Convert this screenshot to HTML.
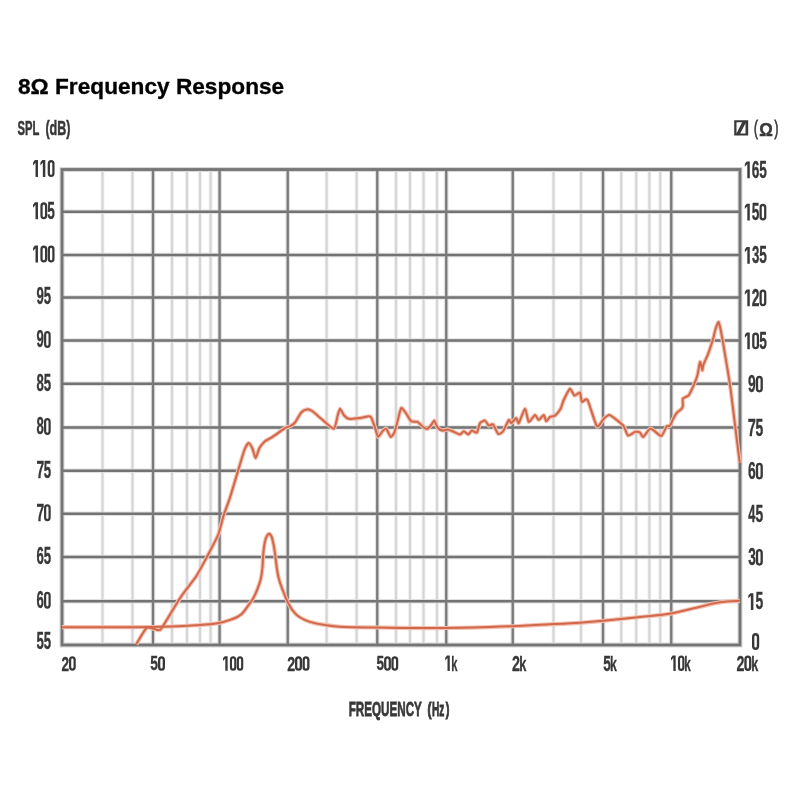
<!DOCTYPE html>
<html><head><meta charset="utf-8"><style>
html,body{margin:0;padding:0;background:#fff;width:800px;height:800px;overflow:hidden}
svg{display:block}
text{font-family:"Liberation Sans",sans-serif;font-size:22px}
</style></head><body>
<svg width="800" height="800" viewBox="0 0 800 800">
<rect width="800" height="800" fill="#fff"/>
<g>
<line x1="62" y1="211.75" x2="740" y2="211.75" stroke="#e0e0e0" stroke-width="4.6"/>
<line x1="62" y1="255" x2="740" y2="255" stroke="#e0e0e0" stroke-width="4.6"/>
<line x1="62" y1="297.5" x2="740" y2="297.5" stroke="#e0e0e0" stroke-width="4.6"/>
<line x1="62" y1="340.5" x2="740" y2="340.5" stroke="#e0e0e0" stroke-width="4.6"/>
<line x1="62" y1="383.75" x2="740" y2="383.75" stroke="#e0e0e0" stroke-width="4.6"/>
<line x1="62" y1="427.5" x2="740" y2="427.5" stroke="#e0e0e0" stroke-width="4.6"/>
<line x1="62" y1="470.75" x2="740" y2="470.75" stroke="#e0e0e0" stroke-width="4.6"/>
<line x1="62" y1="513.75" x2="740" y2="513.75" stroke="#e0e0e0" stroke-width="4.6"/>
<line x1="62" y1="557" x2="740" y2="557" stroke="#e0e0e0" stroke-width="4.6"/>
<line x1="62" y1="601.25" x2="740" y2="601.25" stroke="#e0e0e0" stroke-width="4.6"/>
<line x1="153" y1="169.5" x2="153" y2="645" stroke="#e0e0e0" stroke-width="4.6"/>
<line x1="219.6" y1="169.5" x2="219.6" y2="645" stroke="#e0e0e0" stroke-width="4.6"/>
<line x1="287.75" y1="169.5" x2="287.75" y2="645" stroke="#e0e0e0" stroke-width="4.6"/>
<line x1="377.25" y1="169.5" x2="377.25" y2="645" stroke="#e0e0e0" stroke-width="4.6"/>
<line x1="446.25" y1="169.5" x2="446.25" y2="645" stroke="#e0e0e0" stroke-width="4.6"/>
<line x1="512.75" y1="169.5" x2="512.75" y2="645" stroke="#e0e0e0" stroke-width="4.6"/>
<line x1="603" y1="169.5" x2="603" y2="645" stroke="#e0e0e0" stroke-width="4.6"/>
<line x1="671.25" y1="169.5" x2="671.25" y2="645" stroke="#e0e0e0" stroke-width="4.6"/>
<rect x="62" y="169.5" width="678" height="475.5" fill="none" stroke="#d8d8d8" stroke-width="5"/>
<line x1="102.5" y1="169.5" x2="102.5" y2="645" stroke="#ececec" stroke-width="3.6"/>
<line x1="102.5" y1="169.5" x2="102.5" y2="645" stroke="#d6d6d6" stroke-width="2"/>
<line x1="132.5" y1="169.5" x2="132.5" y2="645" stroke="#ececec" stroke-width="3.6"/>
<line x1="132.5" y1="169.5" x2="132.5" y2="645" stroke="#d6d6d6" stroke-width="2"/>
<line x1="172" y1="169.5" x2="172" y2="645" stroke="#ececec" stroke-width="3.6"/>
<line x1="172" y1="169.5" x2="172" y2="645" stroke="#d6d6d6" stroke-width="2"/>
<line x1="187" y1="169.5" x2="187" y2="645" stroke="#ececec" stroke-width="3.6"/>
<line x1="187" y1="169.5" x2="187" y2="645" stroke="#d6d6d6" stroke-width="2"/>
<line x1="200" y1="169.5" x2="200" y2="645" stroke="#ececec" stroke-width="3.6"/>
<line x1="200" y1="169.5" x2="200" y2="645" stroke="#d6d6d6" stroke-width="2"/>
<line x1="210.6" y1="169.5" x2="210.6" y2="645" stroke="#ececec" stroke-width="3.6"/>
<line x1="210.6" y1="169.5" x2="210.6" y2="645" stroke="#d6d6d6" stroke-width="2"/>
<line x1="326.6" y1="169.5" x2="326.6" y2="645" stroke="#ececec" stroke-width="3.6"/>
<line x1="326.6" y1="169.5" x2="326.6" y2="645" stroke="#d6d6d6" stroke-width="2"/>
<line x1="356.6" y1="169.5" x2="356.6" y2="645" stroke="#ececec" stroke-width="3.6"/>
<line x1="356.6" y1="169.5" x2="356.6" y2="645" stroke="#d6d6d6" stroke-width="2"/>
<line x1="396" y1="169.5" x2="396" y2="645" stroke="#ececec" stroke-width="3.6"/>
<line x1="396" y1="169.5" x2="396" y2="645" stroke="#d6d6d6" stroke-width="2"/>
<line x1="410" y1="169.5" x2="410" y2="645" stroke="#ececec" stroke-width="3.6"/>
<line x1="410" y1="169.5" x2="410" y2="645" stroke="#d6d6d6" stroke-width="2"/>
<line x1="423.5" y1="169.5" x2="423.5" y2="645" stroke="#ececec" stroke-width="3.6"/>
<line x1="423.5" y1="169.5" x2="423.5" y2="645" stroke="#d6d6d6" stroke-width="2"/>
<line x1="437" y1="169.5" x2="437" y2="645" stroke="#ececec" stroke-width="3.6"/>
<line x1="437" y1="169.5" x2="437" y2="645" stroke="#d6d6d6" stroke-width="2"/>
<line x1="553.5" y1="169.5" x2="553.5" y2="645" stroke="#ececec" stroke-width="3.6"/>
<line x1="553.5" y1="169.5" x2="553.5" y2="645" stroke="#d6d6d6" stroke-width="2"/>
<line x1="581" y1="169.5" x2="581" y2="645" stroke="#ececec" stroke-width="3.6"/>
<line x1="581" y1="169.5" x2="581" y2="645" stroke="#d6d6d6" stroke-width="2"/>
<line x1="621.25" y1="169.5" x2="621.25" y2="645" stroke="#ececec" stroke-width="3.6"/>
<line x1="621.25" y1="169.5" x2="621.25" y2="645" stroke="#d6d6d6" stroke-width="2"/>
<line x1="636.25" y1="169.5" x2="636.25" y2="645" stroke="#ececec" stroke-width="3.6"/>
<line x1="636.25" y1="169.5" x2="636.25" y2="645" stroke="#d6d6d6" stroke-width="2"/>
<line x1="649.4" y1="169.5" x2="649.4" y2="645" stroke="#ececec" stroke-width="3.6"/>
<line x1="649.4" y1="169.5" x2="649.4" y2="645" stroke="#d6d6d6" stroke-width="2"/>
<line x1="660.25" y1="169.5" x2="660.25" y2="645" stroke="#ececec" stroke-width="3.6"/>
<line x1="660.25" y1="169.5" x2="660.25" y2="645" stroke="#d6d6d6" stroke-width="2"/>
<line x1="62" y1="211.75" x2="740" y2="211.75" stroke="#737373" stroke-width="2.3"/>
<line x1="62" y1="255" x2="740" y2="255" stroke="#737373" stroke-width="2.3"/>
<line x1="62" y1="297.5" x2="740" y2="297.5" stroke="#737373" stroke-width="2.3"/>
<line x1="62" y1="340.5" x2="740" y2="340.5" stroke="#737373" stroke-width="2.3"/>
<line x1="62" y1="383.75" x2="740" y2="383.75" stroke="#737373" stroke-width="2.3"/>
<line x1="62" y1="427.5" x2="740" y2="427.5" stroke="#737373" stroke-width="2.3"/>
<line x1="62" y1="470.75" x2="740" y2="470.75" stroke="#737373" stroke-width="2.3"/>
<line x1="62" y1="513.75" x2="740" y2="513.75" stroke="#737373" stroke-width="2.3"/>
<line x1="62" y1="557" x2="740" y2="557" stroke="#737373" stroke-width="2.3"/>
<line x1="62" y1="601.25" x2="740" y2="601.25" stroke="#737373" stroke-width="2.3"/>
<line x1="153" y1="169.5" x2="153" y2="645" stroke="#7a7a7a" stroke-width="2.3"/>
<line x1="219.6" y1="169.5" x2="219.6" y2="645" stroke="#7a7a7a" stroke-width="2.3"/>
<line x1="287.75" y1="169.5" x2="287.75" y2="645" stroke="#7a7a7a" stroke-width="2.3"/>
<line x1="377.25" y1="169.5" x2="377.25" y2="645" stroke="#7a7a7a" stroke-width="2.3"/>
<line x1="446.25" y1="169.5" x2="446.25" y2="645" stroke="#7a7a7a" stroke-width="2.3"/>
<line x1="512.75" y1="169.5" x2="512.75" y2="645" stroke="#7a7a7a" stroke-width="2.3"/>
<line x1="603" y1="169.5" x2="603" y2="645" stroke="#7a7a7a" stroke-width="2.3"/>
<line x1="671.25" y1="169.5" x2="671.25" y2="645" stroke="#7a7a7a" stroke-width="2.3"/>
<rect x="62" y="169.5" width="678" height="475.5" fill="none" stroke="#747474" stroke-width="2.8"/>
<g fill="none" stroke-linejoin="round" stroke-linecap="butt">
<path d="M62,627.2 C76.67,627.17 127,627.37 150,627 C173,626.63 188.75,625.62 200,625 C211.25,624.38 212.25,624.23 217.5,623.3 C222.75,622.37 227.57,620.87 231.5,619.4 C235.43,617.93 238.1,617.11 241.1,614.5 C244.1,611.89 247.45,606.48 249.5,603.75 C251.55,601.02 252.08,600.54 253.4,598.1 C254.72,595.66 256.17,592.28 257.4,589.1 C258.62,585.92 259.92,582.56 260.75,579 C261.58,575.44 262.01,571.5 262.4,567.75 C262.79,564 262.82,560.06 263.1,556.5 C263.38,552.94 263.65,549.4 264.1,546.4 C264.55,543.4 265.05,540.57 265.8,538.5 C266.55,536.43 267.67,534.38 268.6,534 C269.53,533.62 270.55,534.38 271.4,536.25 C272.25,538.12 273.03,541.88 273.7,545.25 C274.37,548.62 274.83,552.38 275.4,556.5 C275.97,560.62 276.52,566.25 277.1,570 C277.68,573.75 278.07,575.92 278.9,579 C279.73,582.08 280.79,585 282.1,588.5 C283.41,592 285.23,596.67 286.75,600 C288.27,603.33 289.5,605.92 291.25,608.5 C293,611.08 295,613.62 297.25,615.5 C299.5,617.38 302,618.57 304.75,619.8 C307.5,621.03 310.38,622.05 313.75,622.9 C317.12,623.75 320.62,624.26 325,624.9 C329.38,625.54 331.33,626.32 340,626.75 C348.67,627.18 359.33,627.29 377,627.5 C394.67,627.71 423.33,628.21 446,628 C468.67,627.79 497.33,626.78 513,626.25 C528.67,625.72 528.83,625.38 540,624.8 C551.17,624.22 569.5,623.47 580,622.8 C590.5,622.13 593,621.77 603,620.8 C613,619.83 628.67,618.2 640,617 C651.33,615.8 661,615.32 671,613.6 C681,611.88 691.83,608.58 700,606.7 C708.17,604.82 713.33,603.28 720,602.3 C726.67,601.32 736.67,601.05 740,600.8" stroke="#f2bfae" stroke-width="4.2"/>
<path d="M136.25,644.4 C137.3,642.75 144.5,629.33 146.75,627.9 C149,626.47 157.18,630.22 158.75,630.1 C160.32,629.99 160.25,630.13 162.5,626.75 C164.75,623.37 177.88,601.3 181.25,596.25 C184.62,591.2 193.68,580.2 196.25,576.25 C198.82,572.3 204.81,560.88 207,556.75 C209.19,552.62 216.42,539.17 218.1,535 C219.78,530.83 222.56,518.75 223.75,515 C224.94,511.25 228.56,501.94 230,497.5 C231.44,493.06 236.66,475.35 238.1,470.6 C239.54,465.85 243.34,452.75 244.4,450 C245.47,447.25 247.94,443.23 248.75,443.1 C249.56,442.98 251.81,447.25 252.5,448.75 C253.19,450.25 254.91,458.17 255.6,458.1 C256.29,458.04 258.46,449.79 259.4,448.1 C260.34,446.42 263.69,442.37 265,441.25 C266.31,440.13 270.5,438.21 272.5,436.9 C274.5,435.58 283.25,429.17 285,428.1 C286.75,427.04 289,426.81 290,426.25 C291,425.69 293.88,423.88 295,422.5 C296.12,421.12 300.06,413.81 301.25,412.5 C302.44,411.19 305.77,409.52 306.9,409.4 C308.02,409.27 311.06,410.31 312.5,411.25 C313.94,412.19 319.12,417 321.25,418.75 C323.38,420.5 332.12,429 333.75,428.75 C335.38,428.5 336.88,418.25 337.5,416.25 C338.12,414.25 339.38,408.88 340,408.75 C340.62,408.62 342.88,414 343.75,415 C344.62,416 347.12,418.44 348.75,418.75 C350.38,419.06 358,418.35 360,418.1 C362,417.85 367.62,416.31 368.75,416.25 C369.88,416.19 370.62,416.38 371.25,417.5 C371.88,418.62 374.31,425.56 375,427.5 C375.69,429.44 377.35,436.52 378.1,436.9 C378.85,437.27 381.69,432.06 382.5,431.25 C383.31,430.44 385.44,428.19 386.25,428.75 C387.06,429.31 389.79,436.52 390.6,436.9 C391.42,437.27 393.71,434.06 394.4,432.5 C395.09,430.94 396.81,423.69 397.5,421.25 C398.19,418.81 400.38,408.85 401.25,408.1 C402.12,407.35 405.25,412.44 406.25,413.75 C407.25,415.06 410.12,420.44 411.25,421.25 C412.38,422.06 416.25,421.27 417.5,421.9 C418.75,422.52 422.75,426.81 423.75,427.5 C424.75,428.19 426.75,429 427.5,428.75 C428.25,428.5 430.56,425.81 431.25,425 C431.94,424.19 433.77,420.35 434.4,420.6 C435.02,420.85 436.69,426.5 437.5,427.5 C438.31,428.5 441.5,430.41 442.5,430.6 C443.5,430.79 446.5,429.33 447.5,429.4 C448.5,429.46 451.25,430.74 452.5,431.25 C453.75,431.76 458.88,434.5 460,434.5 C461.12,434.5 462.94,431.26 463.75,431.25 C464.56,431.24 467.29,434.46 468.1,434.4 C468.92,434.33 471.02,430.79 471.9,430.6 C472.78,430.41 476.09,433.25 476.9,432.5 C477.71,431.75 479.19,424.29 480,423.1 C480.81,421.91 484.12,420.35 485,420.6 C485.88,420.85 487.94,425.22 488.75,425.6 C489.56,425.98 492.17,423.58 493.1,424.4 C494.04,425.21 497.1,433.06 498.1,433.75 C499.1,434.44 502.04,432.62 503.1,431.25 C504.17,429.88 507.94,420.81 508.75,420 C509.56,419.19 510.5,423.29 511.25,423.1 C512,422.91 515.5,418.1 516.25,418.1 C517,418.1 517.88,424.04 518.75,423.1 C519.62,422.17 524,408.87 525,408.75 C526,408.63 527.75,421.27 528.75,421.9 C529.75,422.52 534,415.19 535,415 C536,414.81 537.88,420 538.75,420 C539.62,420 543,414.88 543.75,415 C544.5,415.12 545.62,421.06 546.25,421.25 C546.88,421.44 549.12,417.46 550,416.9 C550.88,416.33 553.94,416.42 555,415.6 C556.06,414.79 559.73,410.31 560.6,408.75 C561.48,407.19 562.81,402 563.75,400 C564.69,398 568.93,389.19 570,388.75 C571.07,388.31 573.4,395.23 574.4,395.6 C575.4,395.98 579.25,391.87 580,392.5 C580.75,393.13 581.15,401.15 581.9,401.9 C582.65,402.65 586,397.56 587.5,400 C589,402.44 595.27,424.38 596.9,426.25 C598.52,428.12 602.5,419.88 603.75,418.75 C605,417.62 608.02,414.81 609.4,415 C610.77,415.19 616.07,419.48 617.5,420.6 C618.93,421.73 622.69,424.75 623.75,426.25 C624.81,427.75 626.98,435.04 628.1,435.6 C629.23,436.17 633.81,432.21 635,431.9 C636.19,431.59 639.18,431.99 640,432.5 C640.82,433.01 642.14,437.39 643.2,437 C644.26,436.61 648.8,428.7 650.6,428.6 C652.4,428.5 659.65,436.22 661.25,436 C662.85,435.78 665.74,427.42 666.6,426.4 C667.47,425.38 669.25,426.54 669.9,425.8 C670.55,425.06 672.37,420.34 673.1,419 C673.83,417.66 676.38,413.38 677.2,412.4 C678.02,411.42 680.73,409.85 681.3,409.2 C681.87,408.55 682.74,406.96 682.9,405.9 C683.06,404.84 682.33,399.65 682.9,398.6 C683.47,397.55 687.54,396.7 688.6,395.4 C689.66,394.1 692.61,387.64 693.5,385.6 C694.39,383.56 696.85,377.36 697.5,375 C698.15,372.64 699.51,362.48 700,362 C700.49,361.52 702.08,369.87 702.4,370.2 C702.72,370.53 702.63,366.93 703.2,365.3 C703.77,363.67 707.12,356.5 708.1,353.9 C709.08,351.3 712.27,341.74 713,339.3 C713.73,336.86 714.83,331.21 715.4,329.5 C715.97,327.79 718.05,321.55 718.7,322.2 C719.35,322.85 721.17,332.18 721.9,336 C722.63,339.82 725.19,355.52 726,360.4 C726.81,365.28 729.27,379.76 730,384.8 C730.73,389.84 732.65,405.6 733.3,410.8 C733.95,416 735.86,431.61 736.5,436.8 C737.14,442 739.42,460.15 739.75,462.75" stroke="#f2bfae" stroke-width="4.2"/>
<path d="M62,627.2 C76.67,627.17 127,627.37 150,627 C173,626.63 188.75,625.62 200,625 C211.25,624.38 212.25,624.23 217.5,623.3 C222.75,622.37 227.57,620.87 231.5,619.4 C235.43,617.93 238.1,617.11 241.1,614.5 C244.1,611.89 247.45,606.48 249.5,603.75 C251.55,601.02 252.08,600.54 253.4,598.1 C254.72,595.66 256.17,592.28 257.4,589.1 C258.62,585.92 259.92,582.56 260.75,579 C261.58,575.44 262.01,571.5 262.4,567.75 C262.79,564 262.82,560.06 263.1,556.5 C263.38,552.94 263.65,549.4 264.1,546.4 C264.55,543.4 265.05,540.57 265.8,538.5 C266.55,536.43 267.67,534.38 268.6,534 C269.53,533.62 270.55,534.38 271.4,536.25 C272.25,538.12 273.03,541.88 273.7,545.25 C274.37,548.62 274.83,552.38 275.4,556.5 C275.97,560.62 276.52,566.25 277.1,570 C277.68,573.75 278.07,575.92 278.9,579 C279.73,582.08 280.79,585 282.1,588.5 C283.41,592 285.23,596.67 286.75,600 C288.27,603.33 289.5,605.92 291.25,608.5 C293,611.08 295,613.62 297.25,615.5 C299.5,617.38 302,618.57 304.75,619.8 C307.5,621.03 310.38,622.05 313.75,622.9 C317.12,623.75 320.62,624.26 325,624.9 C329.38,625.54 331.33,626.32 340,626.75 C348.67,627.18 359.33,627.29 377,627.5 C394.67,627.71 423.33,628.21 446,628 C468.67,627.79 497.33,626.78 513,626.25 C528.67,625.72 528.83,625.38 540,624.8 C551.17,624.22 569.5,623.47 580,622.8 C590.5,622.13 593,621.77 603,620.8 C613,619.83 628.67,618.2 640,617 C651.33,615.8 661,615.32 671,613.6 C681,611.88 691.83,608.58 700,606.7 C708.17,604.82 713.33,603.28 720,602.3 C726.67,601.32 736.67,601.05 740,600.8" stroke="#d2684b" stroke-width="2"/>
<path d="M136.25,644.4 C137.3,642.75 144.5,629.33 146.75,627.9 C149,626.47 157.18,630.22 158.75,630.1 C160.32,629.99 160.25,630.13 162.5,626.75 C164.75,623.37 177.88,601.3 181.25,596.25 C184.62,591.2 193.68,580.2 196.25,576.25 C198.82,572.3 204.81,560.88 207,556.75 C209.19,552.62 216.42,539.17 218.1,535 C219.78,530.83 222.56,518.75 223.75,515 C224.94,511.25 228.56,501.94 230,497.5 C231.44,493.06 236.66,475.35 238.1,470.6 C239.54,465.85 243.34,452.75 244.4,450 C245.47,447.25 247.94,443.23 248.75,443.1 C249.56,442.98 251.81,447.25 252.5,448.75 C253.19,450.25 254.91,458.17 255.6,458.1 C256.29,458.04 258.46,449.79 259.4,448.1 C260.34,446.42 263.69,442.37 265,441.25 C266.31,440.13 270.5,438.21 272.5,436.9 C274.5,435.58 283.25,429.17 285,428.1 C286.75,427.04 289,426.81 290,426.25 C291,425.69 293.88,423.88 295,422.5 C296.12,421.12 300.06,413.81 301.25,412.5 C302.44,411.19 305.77,409.52 306.9,409.4 C308.02,409.27 311.06,410.31 312.5,411.25 C313.94,412.19 319.12,417 321.25,418.75 C323.38,420.5 332.12,429 333.75,428.75 C335.38,428.5 336.88,418.25 337.5,416.25 C338.12,414.25 339.38,408.88 340,408.75 C340.62,408.62 342.88,414 343.75,415 C344.62,416 347.12,418.44 348.75,418.75 C350.38,419.06 358,418.35 360,418.1 C362,417.85 367.62,416.31 368.75,416.25 C369.88,416.19 370.62,416.38 371.25,417.5 C371.88,418.62 374.31,425.56 375,427.5 C375.69,429.44 377.35,436.52 378.1,436.9 C378.85,437.27 381.69,432.06 382.5,431.25 C383.31,430.44 385.44,428.19 386.25,428.75 C387.06,429.31 389.79,436.52 390.6,436.9 C391.42,437.27 393.71,434.06 394.4,432.5 C395.09,430.94 396.81,423.69 397.5,421.25 C398.19,418.81 400.38,408.85 401.25,408.1 C402.12,407.35 405.25,412.44 406.25,413.75 C407.25,415.06 410.12,420.44 411.25,421.25 C412.38,422.06 416.25,421.27 417.5,421.9 C418.75,422.52 422.75,426.81 423.75,427.5 C424.75,428.19 426.75,429 427.5,428.75 C428.25,428.5 430.56,425.81 431.25,425 C431.94,424.19 433.77,420.35 434.4,420.6 C435.02,420.85 436.69,426.5 437.5,427.5 C438.31,428.5 441.5,430.41 442.5,430.6 C443.5,430.79 446.5,429.33 447.5,429.4 C448.5,429.46 451.25,430.74 452.5,431.25 C453.75,431.76 458.88,434.5 460,434.5 C461.12,434.5 462.94,431.26 463.75,431.25 C464.56,431.24 467.29,434.46 468.1,434.4 C468.92,434.33 471.02,430.79 471.9,430.6 C472.78,430.41 476.09,433.25 476.9,432.5 C477.71,431.75 479.19,424.29 480,423.1 C480.81,421.91 484.12,420.35 485,420.6 C485.88,420.85 487.94,425.22 488.75,425.6 C489.56,425.98 492.17,423.58 493.1,424.4 C494.04,425.21 497.1,433.06 498.1,433.75 C499.1,434.44 502.04,432.62 503.1,431.25 C504.17,429.88 507.94,420.81 508.75,420 C509.56,419.19 510.5,423.29 511.25,423.1 C512,422.91 515.5,418.1 516.25,418.1 C517,418.1 517.88,424.04 518.75,423.1 C519.62,422.17 524,408.87 525,408.75 C526,408.63 527.75,421.27 528.75,421.9 C529.75,422.52 534,415.19 535,415 C536,414.81 537.88,420 538.75,420 C539.62,420 543,414.88 543.75,415 C544.5,415.12 545.62,421.06 546.25,421.25 C546.88,421.44 549.12,417.46 550,416.9 C550.88,416.33 553.94,416.42 555,415.6 C556.06,414.79 559.73,410.31 560.6,408.75 C561.48,407.19 562.81,402 563.75,400 C564.69,398 568.93,389.19 570,388.75 C571.07,388.31 573.4,395.23 574.4,395.6 C575.4,395.98 579.25,391.87 580,392.5 C580.75,393.13 581.15,401.15 581.9,401.9 C582.65,402.65 586,397.56 587.5,400 C589,402.44 595.27,424.38 596.9,426.25 C598.52,428.12 602.5,419.88 603.75,418.75 C605,417.62 608.02,414.81 609.4,415 C610.77,415.19 616.07,419.48 617.5,420.6 C618.93,421.73 622.69,424.75 623.75,426.25 C624.81,427.75 626.98,435.04 628.1,435.6 C629.23,436.17 633.81,432.21 635,431.9 C636.19,431.59 639.18,431.99 640,432.5 C640.82,433.01 642.14,437.39 643.2,437 C644.26,436.61 648.8,428.7 650.6,428.6 C652.4,428.5 659.65,436.22 661.25,436 C662.85,435.78 665.74,427.42 666.6,426.4 C667.47,425.38 669.25,426.54 669.9,425.8 C670.55,425.06 672.37,420.34 673.1,419 C673.83,417.66 676.38,413.38 677.2,412.4 C678.02,411.42 680.73,409.85 681.3,409.2 C681.87,408.55 682.74,406.96 682.9,405.9 C683.06,404.84 682.33,399.65 682.9,398.6 C683.47,397.55 687.54,396.7 688.6,395.4 C689.66,394.1 692.61,387.64 693.5,385.6 C694.39,383.56 696.85,377.36 697.5,375 C698.15,372.64 699.51,362.48 700,362 C700.49,361.52 702.08,369.87 702.4,370.2 C702.72,370.53 702.63,366.93 703.2,365.3 C703.77,363.67 707.12,356.5 708.1,353.9 C709.08,351.3 712.27,341.74 713,339.3 C713.73,336.86 714.83,331.21 715.4,329.5 C715.97,327.79 718.05,321.55 718.7,322.2 C719.35,322.85 721.17,332.18 721.9,336 C722.63,339.82 725.19,355.52 726,360.4 C726.81,365.28 729.27,379.76 730,384.8 C730.73,389.84 732.65,405.6 733.3,410.8 C733.95,416 735.86,431.61 736.5,436.8 C737.14,442 739.42,460.15 739.75,462.75" stroke="#d2684b" stroke-width="2"/>
</g>
</g>
<defs><filter id="b" filterUnits="userSpaceOnUse" x="0" y="0" width="800" height="800"><feGaussianBlur stdDeviation="0.8"/></filter></defs>
<g style="opacity:0.999;will-change:transform">
<text transform="matrix(0.62 0 0 1.08 47.35 218.69)" font-weight="bold" fill="#383838" stroke="#383838" stroke-width="0.35">5</text>
<text transform="matrix(0.6 0 0 1.06 36.55 304.45)" font-weight="bold" fill="#383838" stroke="#383838" stroke-width="0.35">9</text>
<text transform="matrix(0.6 0 0 1.08 43.69 304.44)" font-weight="bold" fill="#383838" stroke="#383838" stroke-width="0.35">5</text>
<text transform="matrix(0.6 0 0 1.06 36.55 347.45)" font-weight="bold" fill="#383838" stroke="#383838" stroke-width="0.35">9</text>
<text transform="matrix(0.6 0 0 1.06 36.55 390.7)" font-weight="bold" fill="#383838" stroke="#383838" stroke-width="0.35">8</text>
<text transform="matrix(0.6 0 0 1.08 43.69 390.69)" font-weight="bold" fill="#383838" stroke="#383838" stroke-width="0.35">5</text>
<text transform="matrix(0.6 0 0 1.06 36.55 434.45)" font-weight="bold" fill="#383838" stroke="#383838" stroke-width="0.35">8</text>
<text transform="matrix(0.63 0 0 1.09 36.38 477.96)" font-weight="bold" fill="#383838" stroke="#383838" stroke-width="0.35">7</text>
<text transform="matrix(0.6 0 0 1.08 43.69 477.69)" font-weight="bold" fill="#383838" stroke="#383838" stroke-width="0.35">5</text>
<text transform="matrix(0.63 0 0 1.09 36.38 520.96)" font-weight="bold" fill="#383838" stroke="#383838" stroke-width="0.35">7</text>
<text transform="matrix(0.6 0 0 1.06 36.55 563.95)" font-weight="bold" fill="#383838" stroke="#383838" stroke-width="0.35">6</text>
<text transform="matrix(0.6 0 0 1.08 43.69 563.94)" font-weight="bold" fill="#383838" stroke="#383838" stroke-width="0.35">5</text>
<text transform="matrix(0.6 0 0 1.06 36.55 608.2)" font-weight="bold" fill="#383838" stroke="#383838" stroke-width="0.35">6</text>
<text transform="matrix(0.6 0 0 1.08 36.55 649.19)" font-weight="bold" fill="#383838" stroke="#383838" stroke-width="0.35">5</text>
<text transform="matrix(0.6 0 0 1.08 43.69 649.19)" font-weight="bold" fill="#383838" stroke="#383838" stroke-width="0.35">5</text>
<text transform="matrix(0.62 0 0 1.06 751.82 177.75)" font-weight="bold" fill="#383838" stroke="#383838" stroke-width="0.35">6</text>
<text transform="matrix(0.62 0 0 1.08 759.15 177.74)" font-weight="bold" fill="#383838" stroke="#383838" stroke-width="0.35">5</text>
<text transform="matrix(0.62 0 0 1.08 751.82 219.99)" font-weight="bold" fill="#383838" stroke="#383838" stroke-width="0.35">5</text>
<text transform="matrix(0.6 0 0 1.06 751.98 263.25)" font-weight="bold" fill="#383838" stroke="#383838" stroke-width="0.35">3</text>
<text transform="matrix(0.62 0 0 1.08 759.15 263.24)" font-weight="bold" fill="#383838" stroke="#383838" stroke-width="0.35">5</text>
<text transform="matrix(0.63 0 0 1.08 751.81 306.01)" font-weight="bold" fill="#383838" stroke="#383838" stroke-width="0.35">2</text>
<text transform="matrix(0.62 0 0 1.08 759.15 348.74)" font-weight="bold" fill="#383838" stroke="#383838" stroke-width="0.35">5</text>
<text transform="matrix(0.63 0 0 1.06 747.99 392)" font-weight="bold" fill="#383838" stroke="#383838" stroke-width="0.35">9</text>
<text transform="matrix(0.66 0 0 1.09 747.8 436.01)" font-weight="bold" fill="#383838" stroke="#383838" stroke-width="0.35">7</text>
<text transform="matrix(0.63 0 0 1.08 755.48 435.74)" font-weight="bold" fill="#383838" stroke="#383838" stroke-width="0.35">5</text>
<text transform="matrix(0.63 0 0 1.06 747.99 479)" font-weight="bold" fill="#383838" stroke="#383838" stroke-width="0.35">6</text>
<text transform="matrix(0.58 0 0 1.09 748.31 522.26)" font-weight="bold" fill="#383838" stroke="#383838" stroke-width="0.35">4</text>
<text transform="matrix(0.63 0 0 1.08 755.48 521.99)" font-weight="bold" fill="#383838" stroke="#383838" stroke-width="0.35">5</text>
<text transform="matrix(0.62 0 0 1.06 748.15 565.25)" font-weight="bold" fill="#383838" stroke="#383838" stroke-width="0.35">3</text>
<text transform="matrix(0.63 0 0 1.08 755.48 609.49)" font-weight="bold" fill="#383838" stroke="#383838" stroke-width="0.35">5</text>
<text transform="matrix(0.62 0 0 0.93 61.39 670.59)" font-weight="bold" fill="#383838" stroke="#383838" stroke-width="0.35">2</text>
<text transform="matrix(0.63 0 0 0.93 150.14 670.35)" font-weight="bold" fill="#383838" stroke="#383838" stroke-width="0.35">5</text>
<text transform="matrix(0.65 0 0 0.93 287.13 670.59)" font-weight="bold" fill="#383838" stroke="#383838" stroke-width="0.35">2</text>
<text transform="matrix(0.62 0 0 0.93 376.4 670.35)" font-weight="bold" fill="#383838" stroke="#383838" stroke-width="0.35">5</text>
<text transform="matrix(0.51 0 0 0.95 451.28 670.83)" font-weight="bold" fill="#383838" stroke="#383838" stroke-width="0.35">k</text>
<text transform="matrix(0.65 0 0 0.99 512.12 670.83)" font-weight="bold" fill="#383838" stroke="#383838" stroke-width="0.35">2</text>
<text transform="matrix(0.58 0 0 0.95 519.34 670.83)" font-weight="bold" fill="#383838" stroke="#383838" stroke-width="0.35">k</text>
<text transform="matrix(0.62 0 0 0.99 603.15 670.58)" font-weight="bold" fill="#383838" stroke="#383838" stroke-width="0.35">5</text>
<text transform="matrix(0.56 0 0 0.95 610.1 670.83)" font-weight="bold" fill="#383838" stroke="#383838" stroke-width="0.35">k</text>
<text transform="matrix(0.53 0 0 0.95 684.21 670.83)" font-weight="bold" fill="#383838" stroke="#383838" stroke-width="0.35">k</text>
<text transform="matrix(0.65 0 0 0.99 736.38 670.83)" font-weight="bold" fill="#383838" stroke="#383838" stroke-width="0.35">2</text>
<text transform="matrix(0.57 0 0 0.95 751.13 670.83)" font-weight="bold" fill="#383838" stroke="#383838" stroke-width="0.35">k</text>
<text transform="matrix(1.03 0 0 0.99 17.98 94.28)" font-weight="bold" fill="#000" stroke="#000" stroke-width="0.3">8Ω Frequency Response</text>
<text transform="matrix(0.51 0 0 0.94 17.57 134.58)" font-weight="bold" fill="#383838" stroke="#383838" stroke-width="0.6">SPL</text>
<text transform="matrix(0.57 0 0 0.92 45.4 134.56)" font-weight="bold" fill="#383838" stroke="#383838" stroke-width="0.6">(dB)</text>
<text transform="matrix(0.52 0 0 0.88 754.01 134.8)" font-weight="normal" fill="#383838" stroke="#383838" stroke-width="1.0">(</text>
<text transform="matrix(0.77 0 0 0.84 759.26 135.55)" font-weight="bold" fill="#383838" stroke="#383838" stroke-width="0.6">Ω</text>
<text transform="matrix(0.52 0 0 0.88 774.43 134.8)" font-weight="normal" fill="#383838" stroke="#383838" stroke-width="1.0">)</text>
<text transform="matrix(0.53 0 0 0.95 348.72 715.62)" font-weight="bold" fill="#383838" stroke="#383838" stroke-width="0.8">FREQUENCY</text>
<text transform="matrix(0.54 0 0 0.85 427.41 715.01)" font-weight="bold" fill="#383838" stroke="#383838" stroke-width="1.3">(</text>
<text transform="matrix(0.46 0 0 0.96 431.94 715.72)" font-weight="bold" fill="#383838" stroke="#383838" stroke-width="1.0">Hz</text>
<text transform="matrix(0.49 0 0 0.85 445.8 715.01)" font-weight="bold" fill="#383838" stroke="#383838" stroke-width="1.3">)</text>
<path fill="#3a3a3a" d="M734.2,120.3 H748.2 V135.6 H734.2 Z M736.5,122.3 H742.1 L736.5,133.4 Z M745.5,123.2 V133.6 H740.2 Z" fill-rule="evenodd"/>
<rect x="48.83" y="161.23" width="4.59" height="14.54" rx="2.29" ry="2.64" fill="none" stroke="#383838" stroke-width="2.26"/>
<rect x="41.51" y="203.48" width="4.59" height="14.54" rx="2.29" ry="2.64" fill="none" stroke="#383838" stroke-width="2.26"/>
<rect x="41.51" y="246.73" width="4.59" height="14.54" rx="2.29" ry="2.64" fill="none" stroke="#383838" stroke-width="2.26"/>
<rect x="48.83" y="246.73" width="4.59" height="14.54" rx="2.29" ry="2.64" fill="none" stroke="#383838" stroke-width="2.26"/>
<rect x="45.13" y="332.2" width="4.47" height="14.6" rx="2.23" ry="2.57" fill="none" stroke="#383838" stroke-width="2.2"/>
<rect x="45.13" y="419.2" width="4.47" height="14.6" rx="2.23" ry="2.57" fill="none" stroke="#383838" stroke-width="2.2"/>
<rect x="45.13" y="505.45" width="4.47" height="14.6" rx="2.23" ry="2.57" fill="none" stroke="#383838" stroke-width="2.2"/>
<rect x="45.13" y="592.95" width="4.47" height="14.6" rx="2.23" ry="2.57" fill="none" stroke="#383838" stroke-width="2.2"/>
<rect x="760.63" y="204.78" width="4.59" height="14.54" rx="2.29" ry="2.64" fill="none" stroke="#383838" stroke-width="2.26"/>
<rect x="760.63" y="290.53" width="4.59" height="14.54" rx="2.29" ry="2.64" fill="none" stroke="#383838" stroke-width="2.26"/>
<rect x="753.31" y="333.53" width="4.59" height="14.54" rx="2.29" ry="2.64" fill="none" stroke="#383838" stroke-width="2.26"/>
<rect x="757" y="376.81" width="4.69" height="14.49" rx="2.35" ry="2.7" fill="none" stroke="#383838" stroke-width="2.31"/>
<rect x="757" y="463.81" width="4.69" height="14.49" rx="2.35" ry="2.7" fill="none" stroke="#383838" stroke-width="2.31"/>
<rect x="757" y="550.06" width="4.69" height="14.49" rx="2.35" ry="2.7" fill="none" stroke="#383838" stroke-width="2.31"/>
<rect x="753.19" y="634.29" width="4.82" height="14.42" rx="2.41" ry="2.77" fill="none" stroke="#383838" stroke-width="2.38"/>
<rect x="70.1" y="657.37" width="4.53" height="12.27" rx="2.27" ry="2.61" fill="none" stroke="#383838" stroke-width="2.23"/>
<rect x="159.15" y="657.41" width="4.69" height="12.19" rx="2.35" ry="2.7" fill="none" stroke="#383838" stroke-width="2.31"/>
<rect x="230.96" y="657.31" width="4.32" height="12.37" rx="2.16" ry="2.48" fill="none" stroke="#383838" stroke-width="2.13"/>
<rect x="237.87" y="657.31" width="4.32" height="12.37" rx="2.16" ry="2.48" fill="none" stroke="#383838" stroke-width="2.13"/>
<rect x="296.15" y="657.41" width="4.69" height="12.19" rx="2.35" ry="2.7" fill="none" stroke="#383838" stroke-width="2.31"/>
<rect x="303.65" y="657.41" width="4.69" height="12.19" rx="2.35" ry="2.7" fill="none" stroke="#383838" stroke-width="2.31"/>
<rect x="385.21" y="657.38" width="4.59" height="12.24" rx="2.29" ry="2.64" fill="none" stroke="#383838" stroke-width="2.26"/>
<rect x="392.53" y="657.38" width="4.59" height="12.24" rx="2.29" ry="2.64" fill="none" stroke="#383838" stroke-width="2.26"/>
<rect x="679.02" y="656.57" width="4.35" height="13.36" rx="2.18" ry="2.5" fill="none" stroke="#383838" stroke-width="2.14"/>
<rect x="745.48" y="656.67" width="4.74" height="13.17" rx="2.37" ry="2.72" fill="none" stroke="#383838" stroke-width="2.33"/>
<path fill="#383838" d="M35.41,160.1 L37.98,160.1 L37.98,176.9 L35.51,176.9 L35.51,162.79 L33.05,165.48 L33.05,162.45 L34.91,160.1Z"/>
<path fill="#383838" d="M42.74,160.1 L45.31,160.1 L45.31,176.9 L42.84,176.9 L42.84,162.79 L40.38,165.48 L40.38,162.45 L42.24,160.1Z"/>
<path fill="#383838" d="M35.41,202.35 L37.98,202.35 L37.98,219.15 L35.51,219.15 L35.51,205.04 L33.05,207.73 L33.05,204.7 L34.91,202.35Z"/>
<path fill="#383838" d="M35.41,245.6 L37.98,245.6 L37.98,262.4 L35.51,262.4 L35.51,248.29 L33.05,250.98 L33.05,247.95 L34.91,245.6Z"/>
<path fill="#383838" d="M747.21,161.4 L749.78,161.4 L749.78,178.2 L747.31,178.2 L747.31,164.09 L744.85,166.78 L744.85,163.75 L746.71,161.4Z"/>
<path fill="#383838" d="M747.21,203.65 L749.78,203.65 L749.78,220.45 L747.31,220.45 L747.31,206.34 L744.85,209.03 L744.85,206 L746.71,203.65Z"/>
<path fill="#383838" d="M747.21,246.9 L749.78,246.9 L749.78,263.7 L747.31,263.7 L747.31,249.59 L744.85,252.28 L744.85,249.25 L746.71,246.9Z"/>
<path fill="#383838" d="M747.21,289.4 L749.78,289.4 L749.78,306.2 L747.31,306.2 L747.31,292.09 L744.85,294.78 L744.85,291.75 L746.71,289.4Z"/>
<path fill="#383838" d="M747.21,332.4 L749.78,332.4 L749.78,349.2 L747.31,349.2 L747.31,335.09 L744.85,337.78 L744.85,334.75 L746.71,332.4Z"/>
<path fill="#383838" d="M750.77,593.15 L753.39,593.15 L753.39,609.95 L750.87,609.95 L750.87,595.84 L748.35,598.53 L748.35,595.5 L750.27,593.15Z"/>
<path fill="#383838" d="M225.22,656.25 L227.64,656.25 L227.64,670.75 L225.32,670.75 L225.32,658.57 L223,660.89 L223,658.28 L224.72,656.25Z"/>
<path fill="#383838" d="M447.41,655.5 L449.76,655.5 L449.76,671 L447.51,671 L447.51,657.98 L445.25,660.46 L445.25,657.67 L446.91,655.5Z"/>
<path fill="#383838" d="M673.24,655.5 L675.68,655.5 L675.68,671 L673.34,671 L673.34,657.98 L671,660.46 L671,657.67 L672.74,655.5Z"/>
</g>
</svg>
</body></html>
